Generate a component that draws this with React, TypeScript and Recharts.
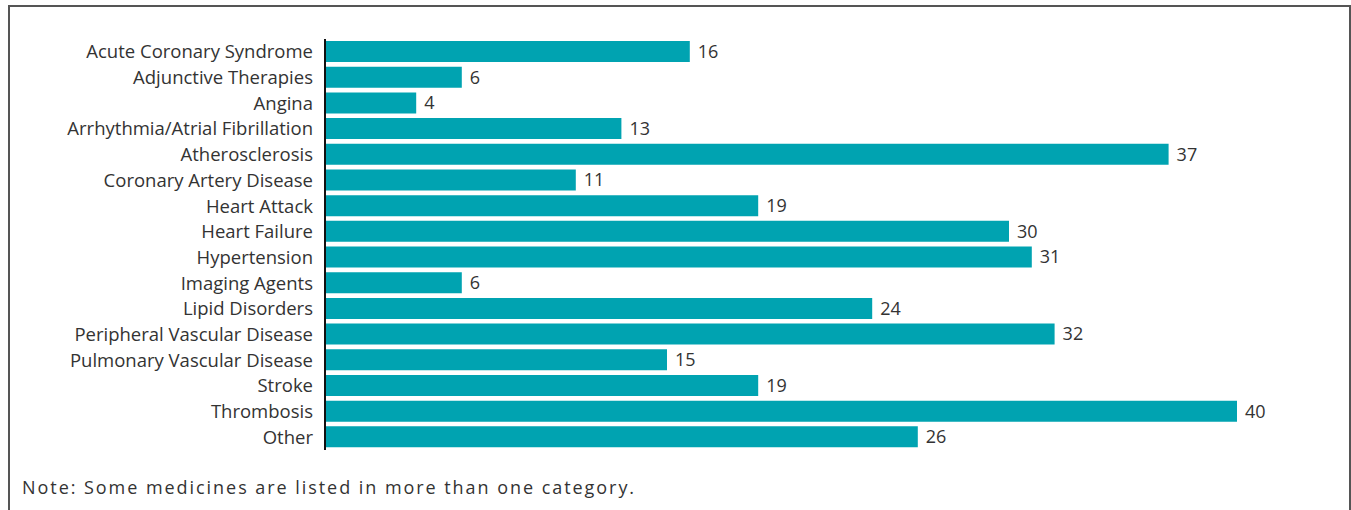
import React from "react";
import { BarChart, Bar, XAxis, YAxis, LabelList } from "recharts";

const categories = [
  "Acute Coronary Syndrome",
  "Adjunctive Therapies",
  "Angina",
  "Arrhythmia/Atrial Fibrillation",
  "Atherosclerosis",
  "Coronary Artery Disease",
  "Heart Attack",
  "Heart Failure",
  "Hypertension",
  "Imaging Agents",
  "Lipid Disorders",
  "Peripheral Vascular Disease",
  "Pulmonary Vascular Disease",
  "Stroke",
  "Thrombosis",
  "Other",
];

const medicines = [16, 6, 4, 13, 37, 11, 19, 30, 31, 6, 24, 32, 15, 19, 40, 26];

const note = "Note: Some medicines are listed in more than one category.";

const data = categories.map((name, i) => ({ name, value: medicines[i] }));

const FONT = "'Open Sans', Lato, sans-serif";

export default function App() {
  return (
    <div
      style={{
        position: "absolute",
        left: 8,
        top: 5,
        width: 1339,
        height: 520,
        border: "2px solid #555",
        background: "#fff",
        fontFamily: FONT,
      }}
    >
      <BarChart
        width={1339}
        height={460}
        data={data}
        layout="vertical"
        margin={{ top: 32, right: 112, bottom: 17, left: 0 }}
        barSize={21}
      >
        <XAxis type="number" domain={[0, 40]} hide />
        <YAxis
          type="category"
          dataKey="name"
          width={315}
          axisLine={{ stroke: "#111", strokeWidth: 2 }}
          tickLine={false}
          tickSize={0}
          tickMargin={12}
          interval={0}
          tick={{ fill: "#333", fontSize: 18.5, fontFamily: FONT }}
        />
        <Bar dataKey="value" fill="#00A3B1" isAnimationActive={false}>
          <LabelList
            dataKey="value"
            position="right"
            offset={8}
            style={{ fill: "#333", fontSize: 18, fontFamily: FONT }}
          />
        </Bar>
      </BarChart>
      <div
        style={{
          position: "absolute",
          left: 12,
          top: 468,
          fontSize: 18,
          letterSpacing: 1.95,
          color: "#333",
          whiteSpace: "nowrap",
        }}
      >
        {note}
      </div>
    </div>
  );
}
